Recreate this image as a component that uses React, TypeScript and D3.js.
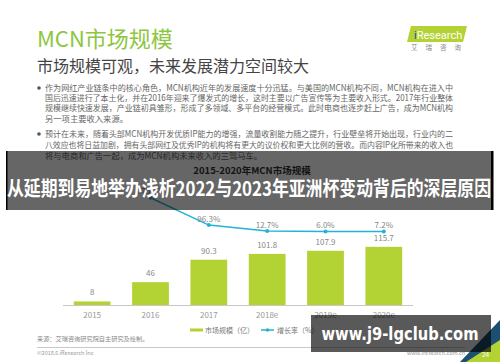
import * as d3 from 'd3'

const years = ['2015', '2016', '2017', '2018e', '2019e', '2020e']
const marketSize = [8, 46, 90.3, 101.8, 107.9, 115.7]
const growthRate: (number | null)[] = [null, 475.0, 96.3, 12.7, 6.0, 7.2]

const bullet1 = [
  '作为网红产业链条中的核心角色，MCN机构近年的发展速度十分迅猛。与美国的MCN机构不同，MCN机构在进入中',
  '国后迅速进行了本土化，并在2016年迎来了爆发式的增长，这时主要以广告宣传等为主要收入形式。2017年行业整体',
  '规模继续快速发展，产业链初具雏形，形成了多领域、多平台的经营模式。此时电商也逐步赶上广告，成为MCN机构',
  '另一项主要收入来源。',
]
const bullet2 = [
  '预计在未来，随着头部MCN机构开发优质IP能力的增强，流量收割能力随之提升，行业壁垒将开始出现，行业内的二',
  '八效应也将日益加剧，拥有头部网红及优秀IP的机构将有更大的议价权和更大比例的营收。而内容IP化所带来的收入也',
  '将与电商和广告一起，成为MCN机构未来收入的三驾马车。',
]

const FONT = '"Noto Sans CJK SC", "Noto Sans", sans-serif'
const BAR = '#b3d234'
const LINE = '#22b3d6'

export default function App() {
  const width = 500
  const height = 362

  const x = d3.scaleBand<string>().domain(years).range([63, 413]).paddingInner(0.37).paddingOuter(0.185)
  const y = d3.scaleLinear().domain([0, 250]).range([305.5, 178.75])
  const yRate = d3.scaleLinear().domain([0, 500]).range([232, 196])

  const cx = (d: string) => (x(d) ?? 0) + x.bandwidth() / 2

  const ratePoints = years
    .map((yr, i) => ({ yr, v: growthRate[i] }))
    .filter((d) => d.v !== null) as { yr: string; v: number }[]

  const line = d3
    .line<{ yr: string; v: number }>()
    .x((d) => cx(d.yr))
    .y((d) => yRate(d.v))

  return (
    <div style={{ position: 'fixed', left: 0, top: 0, width, height }}>
      <svg width={width} height={height} style={{ display: 'block', fontFamily: FONT }}>
        <rect width={width} height={height} fill="#fff" />

        {/* header */}
        <text x={37} y={47} fontSize={22} fill="#8dc641">MCN市场规模</text>
        <text x={37} y={72} fontSize={16} fill="#444">市场规模可观，未来发展潜力空间较大</text>

        {/* logo */}
        <polygon points="411,26 467,26 463,42 407,42" fill="#b3d234" />
        <text x={414} y={38.5} fontSize={11} fill="#fff" fontFamily="Roboto, sans-serif">
          <tspan fill="#1e4f8a">i</tspan>Research
        </text>
        <text x={411} y={50} fontSize={6.5} fill="#888" letterSpacing={8}>艾瑞咨询</text>

        {/* bullets */}
        <g fontSize={8.3} fill="#666">
          <circle cx={39} cy={88} r={1.8} fill="#555" />
          {bullet1.map((t, i) => (
            <text key={'a' + i} x={45} y={91 + i * 10.2}
              textLength={i < 3 ? 408 : undefined} lengthAdjust="spacingAndGlyphs">{t}</text>
          ))}
          <circle cx={39} cy={134} r={1.8} fill="#555" />
          {bullet2.map((t, i) => (
            <text key={'b' + i} x={45} y={137 + i * 11}
              textLength={i < 2 ? 408 : undefined} lengthAdjust="spacingAndGlyphs">{t}</text>
          ))}
        </g>

        {/* chart */}
        <text x={252} y={173.5} textAnchor="middle" fontSize={9.5} fontWeight={700} fill="#333">
          2015-2020年MCN市场规模
        </text>

        {years.map((yr, i) => (
          <g key={yr}>
            <rect x={x(yr)} y={y(marketSize[i])} width={x.bandwidth()}
              height={y(0) - y(marketSize[i])} fill={BAR} />
            <text x={cx(yr)} y={y(marketSize[i]) - 6} textAnchor="middle" fontSize={8} fill="#888">
              {marketSize[i]}
            </text>
            <text x={cx(yr)} y={318} textAnchor="middle" fontSize={8} fill="#999">{yr}</text>
          </g>
        ))}
        <line x1={63} x2={413} y1={305.5} y2={305.5} stroke="#c8c8c8" strokeWidth={1} />

        <path d={line(ratePoints) ?? ''} fill="none" stroke={LINE} strokeWidth={1.5} />
        {ratePoints.map((d) => (
          <g key={d.yr}>
            <circle cx={cx(d.yr)} cy={yRate(d.v)} r={2} fill={LINE} />
            <text x={cx(d.yr)} y={yRate(d.v) - 3.5} textAnchor="middle" fontSize={8} fill="#888">
              {d.v.toFixed(1)}%
            </text>
          </g>
        ))}

        {/* legend */}
        <rect x={190} y={328.5} width={13} height={3} fill={BAR} />
        <text x={205} y={332.5} fontSize={7} fill="#777">市场规模（亿）</text>
        <line x1={261} x2={274} y1={330} y2={330} stroke={LINE} strokeWidth={1.5} />
        <circle cx={267.5} cy={330} r={1.8} fill={LINE} />
        <text x={277} y={332.5} fontSize={7} fill="#777">增长率（%）</text>

        {/* footer */}
        <text x={37} y={341} fontSize={6.2} fill="#888">来源：艾瑞咨询研究院自主研究及绘制。</text>
        <line x1={37} x2={465} y1={347.5} y2={347.5} stroke="#bbb" strokeWidth={0.8} />
        <text x={37} y={355} fontSize={5.5} fill="#999">©2018.6 iResearch Inc</text>
        <text x={407} y={355} fontSize={5.5} fill="#999">www.iresearch.com.cn</text>
        <polygon points="460,362 500,320 500,342 482,362" fill="#1d4f73" />
        <polygon points="466,362 500,340 500,362" fill="#b3d234" />
        <text x={482} y={357} fontSize={6.5} fill="#fff">24</text>

        {/* banner overlay */}
        <rect x={6} y={151} width={487} height={59} fill="#000" opacity={0.6} />
        <rect x={6} y={151} width={1.5} height={59} fill="#000" />
        <rect x={491} y={151} width={2.5} height={59} fill="#000" />
        <text x={249} y={196} textAnchor="middle" fontSize={20} fontWeight={700} fill="#fff"
          textLength={484} lengthAdjust="spacingAndGlyphs">
          从延期到易地举办浅析2022与2023年亚洲杯变动背后的深层原因
        </text>

        {/* watermark */}
        <rect x={311} y={315} width={180} height={37} fill="#000" opacity={0.65} />
        <text x={400} y={340} textAnchor="middle" fontSize={17.5} fontWeight={700} fill="#fff"
          fontFamily="'DejaVu Sans', sans-serif" textLength={157} lengthAdjust="spacingAndGlyphs">
          www.j9-lgclub.com
        </text>
      </svg>
    </div>
  )
}
